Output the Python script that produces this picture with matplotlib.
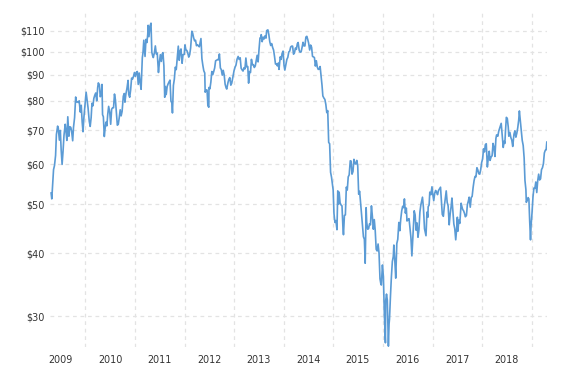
import numpy as np
import pandas as pd
import matplotlib
matplotlib.use("Agg")
import matplotlib.pyplot as plt
import matplotlib.dates as mdates
from matplotlib.ticker import FixedLocator, NullLocator, NullFormatter

# WTI crude oil price (weekly-ish)
dates = [
    "2009-04-23", "2009-04-28", "2009-05-04", "2009-05-11", "2009-05-18", "2009-05-26", "2009-06-01", "2009-06-10",
    "2009-06-15", "2009-06-23", "2009-06-30", "2009-07-06", "2009-07-13", "2009-07-20", "2009-07-27", "2009-08-05",
    "2009-08-11", "2009-08-17", "2009-08-24", "2009-09-01", "2009-09-08", "2009-09-15", "2009-09-21", "2009-09-29",
    "2009-10-05", "2009-10-13", "2009-10-21", "2009-10-27", "2009-11-03", "2009-11-09", "2009-11-16", "2009-11-24",
    "2009-12-01", "2009-12-08", "2009-12-14", "2009-12-21", "2009-12-29",
    "2010-01-06", "2010-01-12", "2010-01-20", "2010-01-29", "2010-02-05", "2010-02-12", "2010-02-18", "2010-02-25",
    "2010-03-04", "2010-03-11", "2010-03-18", "2010-03-25", "2010-04-01", "2010-04-06", "2010-04-14", "2010-04-20",
    "2010-04-28", "2010-05-03", "2010-05-07", "2010-05-13", "2010-05-20", "2010-05-25", "2010-06-01", "2010-06-08",
    "2010-06-14", "2010-06-21", "2010-06-29", "2010-07-06", "2010-07-13", "2010-07-20", "2010-07-27", "2010-08-03",
    "2010-08-10", "2010-08-17", "2010-08-24", "2010-08-31", "2010-09-07", "2010-09-14", "2010-09-21", "2010-09-28",
    "2010-10-07", "2010-10-14", "2010-10-19", "2010-10-26", "2010-11-03", "2010-11-11", "2010-11-16", "2010-11-23",
    "2010-11-30", "2010-12-07", "2010-12-14", "2010-12-21", "2010-12-28",
    "2011-01-04", "2011-01-11", "2011-01-18", "2011-01-25", "2011-02-01", "2011-02-08", "2011-02-15", "2011-02-22",
    "2011-02-24", "2011-03-01", "2011-03-07", "2011-03-16", "2011-03-23", "2011-03-30", "2011-04-05", "2011-04-08",
    "2011-04-14", "2011-04-21", "2011-04-29", "2011-05-05", "2011-05-11", "2011-05-16", "2011-05-24", "2011-05-31",
    "2011-06-07", "2011-06-14", "2011-06-23", "2011-06-30", "2011-07-07", "2011-07-14", "2011-07-21", "2011-07-26",
    "2011-08-02", "2011-08-08", "2011-08-12", "2011-08-19", "2011-08-26", "2011-09-02", "2011-09-09", "2011-09-16",
    "2011-09-23", "2011-09-30", "2011-10-04", "2011-10-11", "2011-10-18", "2011-10-25", "2011-11-01", "2011-11-08",
    "2011-11-16", "2011-11-23", "2011-11-30", "2011-12-06", "2011-12-14", "2011-12-21", "2011-12-30",
    "2012-01-04", "2012-01-11", "2012-01-18", "2012-01-25", "2012-02-01", "2012-02-08", "2012-02-15", "2012-02-24",
    "2012-03-01", "2012-03-08", "2012-03-15", "2012-03-22", "2012-03-29", "2012-04-05", "2012-04-12", "2012-04-19",
    "2012-04-26", "2012-05-01", "2012-05-08", "2012-05-15", "2012-05-22", "2012-05-29", "2012-06-01", "2012-06-08",
    "2012-06-15", "2012-06-21", "2012-06-28", "2012-06-29", "2012-07-06", "2012-07-13", "2012-07-20", "2012-07-27",
    "2012-08-03", "2012-08-10", "2012-08-17", "2012-08-24", "2012-08-31", "2012-09-07", "2012-09-14", "2012-09-21",
    "2012-09-28", "2012-10-05", "2012-10-12", "2012-10-19", "2012-10-26", "2012-11-02", "2012-11-07", "2012-11-16",
    "2012-11-23", "2012-11-30", "2012-12-07", "2012-12-14", "2012-12-21", "2012-12-31",
    "2013-01-07", "2013-01-14", "2013-01-22", "2013-01-30", "2013-02-06", "2013-02-14", "2013-02-21", "2013-02-28",
    "2013-03-07", "2013-03-14", "2013-03-21", "2013-03-28", "2013-04-04", "2013-04-11", "2013-04-17", "2013-04-24",
    "2013-05-01", "2013-05-08", "2013-05-15", "2013-05-22", "2013-05-29", "2013-06-05", "2013-06-12", "2013-06-19",
    "2013-06-26", "2013-07-03", "2013-07-10", "2013-07-17", "2013-07-19", "2013-07-26", "2013-08-02", "2013-08-09",
    "2013-08-16", "2013-08-23", "2013-08-28", "2013-09-06", "2013-09-13", "2013-09-20", "2013-09-27", "2013-10-04",
    "2013-10-11", "2013-10-18", "2013-10-25", "2013-11-01", "2013-11-08", "2013-11-15", "2013-11-22", "2013-11-27",
    "2013-12-06", "2013-12-13", "2013-12-20", "2013-12-27",
    "2014-01-03", "2014-01-09", "2014-01-17", "2014-01-24", "2014-01-31", "2014-02-07", "2014-02-14", "2014-02-21",
    "2014-02-28", "2014-03-07", "2014-03-14", "2014-03-21", "2014-03-28", "2014-04-04", "2014-04-11", "2014-04-17",
    "2014-04-25", "2014-05-02", "2014-05-09", "2014-05-16", "2014-05-23", "2014-05-30", "2014-06-06", "2014-06-13",
    "2014-06-20", "2014-06-27", "2014-07-03", "2014-07-11", "2014-07-18", "2014-07-25", "2014-08-01", "2014-08-08",
    "2014-08-15", "2014-08-22", "2014-08-29", "2014-09-05", "2014-09-12", "2014-09-19", "2014-09-26", "2014-10-03",
    "2014-10-10", "2014-10-16", "2014-10-24", "2014-10-31", "2014-11-07", "2014-11-14", "2014-11-21", "2014-11-28",
    "2014-12-05", "2014-12-12", "2014-12-19", "2014-12-26", "2014-12-31",
    "2015-01-06", "2015-01-13", "2015-01-20", "2015-01-28", "2015-02-03", "2015-02-10", "2015-02-13", "2015-02-20",
    "2015-02-27", "2015-03-06", "2015-03-13", "2015-03-17", "2015-03-24", "2015-03-31", "2015-04-07", "2015-04-14",
    "2015-04-21", "2015-04-28", "2015-05-06", "2015-05-12", "2015-05-19", "2015-05-26", "2015-06-02", "2015-06-09",
    "2015-06-16", "2015-06-23", "2015-06-30", "2015-07-07", "2015-07-14", "2015-07-21", "2015-07-28", "2015-08-04",
    "2015-08-11", "2015-08-18", "2015-08-24", "2015-08-31", "2015-09-04", "2015-09-11", "2015-09-18", "2015-09-25",
    "2015-10-02", "2015-10-09", "2015-10-16", "2015-10-23", "2015-10-30", "2015-11-06", "2015-11-13", "2015-11-20",
    "2015-11-27", "2015-12-04", "2015-12-11", "2015-12-18", "2015-12-21", "2015-12-29",
    "2016-01-05", "2016-01-12", "2016-01-20", "2016-01-22", "2016-01-28", "2016-02-03", "2016-02-11", "2016-02-16",
    "2016-02-19", "2016-02-26", "2016-03-04", "2016-03-11", "2016-03-18", "2016-03-22", "2016-03-30", "2016-04-05",
    "2016-04-13", "2016-04-20", "2016-04-28", "2016-05-05", "2016-05-12", "2016-05-19", "2016-05-26", "2016-06-02",
    "2016-06-08", "2016-06-15", "2016-06-22", "2016-06-27", "2016-07-05", "2016-07-12", "2016-07-19", "2016-07-26",
    "2016-08-02", "2016-08-09", "2016-08-16", "2016-08-19", "2016-08-26", "2016-09-02", "2016-09-09", "2016-09-16",
    "2016-09-23", "2016-09-30", "2016-10-07", "2016-10-19", "2016-10-26", "2016-11-03", "2016-11-14", "2016-11-21",
    "2016-11-28", "2016-11-30", "2016-12-07", "2016-12-12", "2016-12-20", "2016-12-28",
    "2017-01-03", "2017-01-10", "2017-01-17", "2017-01-24", "2017-01-31", "2017-02-07", "2017-02-14", "2017-02-22",
    "2017-03-01", "2017-03-08", "2017-03-14", "2017-03-22", "2017-03-29", "2017-04-05", "2017-04-12", "2017-04-19",
    "2017-04-26", "2017-05-04", "2017-05-11", "2017-05-18", "2017-05-24", "2017-05-31", "2017-06-07", "2017-06-14",
    "2017-06-21", "2017-06-28", "2017-07-03", "2017-07-07", "2017-07-14", "2017-07-21", "2017-07-31", "2017-08-04",
    "2017-08-11", "2017-08-18", "2017-08-25", "2017-08-31", "2017-09-08", "2017-09-15", "2017-09-22", "2017-09-28",
    "2017-10-06", "2017-10-13", "2017-10-20", "2017-10-27", "2017-11-03", "2017-11-10", "2017-11-17", "2017-11-24",
    "2017-12-01", "2017-12-08", "2017-12-15", "2017-12-22", "2017-12-29",
    "2018-01-05", "2018-01-12", "2018-01-19", "2018-01-25", "2018-02-01", "2018-02-09", "2018-02-16", "2018-02-23",
    "2018-03-01", "2018-03-09", "2018-03-16", "2018-03-23", "2018-03-29", "2018-04-06", "2018-04-13", "2018-04-18",
    "2018-04-27", "2018-05-04", "2018-05-11", "2018-05-17", "2018-05-22", "2018-05-30", "2018-06-06", "2018-06-13",
    "2018-06-18", "2018-06-22", "2018-06-29", "2018-07-06", "2018-07-13", "2018-07-17", "2018-07-25", "2018-08-01",
    "2018-08-08", "2018-08-15", "2018-08-24", "2018-08-31", "2018-09-07", "2018-09-14", "2018-09-21", "2018-09-28",
    "2018-10-03", "2018-10-10", "2018-10-17", "2018-10-24", "2018-10-31", "2018-11-07", "2018-11-13", "2018-11-20",
    "2018-11-23", "2018-11-30", "2018-12-06", "2018-12-12", "2018-12-18", "2018-12-24", "2018-12-28",
    "2019-01-04", "2019-01-11", "2019-01-18", "2019-01-25", "2019-02-01", "2019-02-08", "2019-02-15", "2019-02-22",
    "2019-03-01", "2019-03-08", "2019-03-15", "2019-03-22", "2019-03-29", "2019-04-05", "2019-04-12", "2019-04-18",
    "2019-04-23",
]

prices = [
    # 2009
    52.6, 51.2, 54.5, 58.5, 59.6, 62.4, 68.6, 71.3, 70.6, 66.9, 69.9, 64.1, 59.9, 63.6, 68.4, 71.9,
    69.5, 66.8, 74.4, 68.1, 71.1, 70.9, 69.7, 66.7, 70.9, 74.1, 81.4, 79.6, 79.6, 79.4, 80.0, 76.0,
    78.4, 72.6, 69.5, 74.4, 78.9,
    # 2010
    83.2, 80.8, 77.6, 72.9, 71.2, 74.1, 79.1, 78.2, 80.9, 82.1, 82.9, 80.0, 84.9, 86.8, 86.0, 81.5,
    82.4, 86.2, 75.1, 74.4, 68.0, 70.2, 72.6, 71.4, 75.1, 78.0, 75.9, 71.9, 77.0, 77.5, 77.5, 82.5,
    80.3, 75.8, 71.6, 71.9, 74.1, 76.8, 74.7, 76.2, 81.7, 82.7, 79.5, 82.5, 84.7, 87.8, 82.3, 81.3,
    84.1, 88.7, 88.3, 89.4, 91.0,
    # 2011
    89.4, 91.1, 91.4, 86.2, 90.8, 86.9, 84.3, 93.6, 97.3, 99.6, 105.4, 97.9, 105.8, 104.3, 108.3, 112.8,
    107.1, 112.3, 113.9, 99.8, 98.2, 97.4, 99.6, 102.7, 99.0, 99.4, 91.0, 95.4, 98.7, 95.7, 99.1, 99.6,
    93.8, 81.3, 85.4, 82.3, 85.4, 86.4, 87.2, 87.9, 79.9, 79.2, 75.7, 85.8, 88.3, 93.2, 92.2, 96.8,
    102.6, 96.2, 100.4, 101.3, 94.9, 98.7, 98.8,
    # 2012
    103.2, 100.9, 100.6, 99.4, 97.6, 98.7, 101.8, 109.8, 108.8, 106.6, 105.1, 105.4, 102.8, 103.3, 102.7, 102.3,
    104.5, 106.2, 96.9, 94.0, 91.7, 90.8, 83.2, 84.1, 84.0, 78.2, 77.7, 85.0, 84.5, 87.1, 91.4, 90.1,
    91.4, 92.9, 96.0, 96.2, 96.5, 96.4, 99.0, 92.9, 92.2, 89.9, 91.9, 90.1, 86.3, 84.9, 84.4, 86.9,
    88.3, 88.9, 85.9, 86.7, 88.7, 91.8,
    # 2013
    93.2, 94.1, 96.7, 97.9, 96.6, 97.3, 92.8, 92.1, 91.6, 93.0, 92.5, 97.2, 93.3, 93.5, 86.7, 91.4,
    91.0, 96.6, 94.3, 94.3, 93.1, 93.7, 95.9, 98.4, 95.5, 101.2, 106.5, 106.5, 108.1, 104.7, 106.9, 106.0,
    107.5, 106.4, 110.1, 110.5, 108.2, 104.7, 102.9, 103.8, 102.0, 100.8, 97.9, 94.6, 94.6, 93.8, 95.0, 92.3,
    97.7, 96.6, 99.3, 100.3,
    # 2014
    94.0, 92.0, 94.4, 96.6, 97.5, 99.9, 100.3, 102.2, 102.6, 102.6, 98.9, 99.5, 101.7, 101.1, 103.7, 104.3,
    100.6, 99.8, 100.0, 102.0, 104.4, 102.7, 102.7, 106.9, 107.3, 105.7, 104.1, 100.8, 103.1, 102.1, 97.9, 97.7,
    97.4, 93.7, 96.0, 93.3, 92.3, 92.4, 93.5, 89.7, 85.8, 81.8, 81.0, 80.5, 78.7, 75.8, 76.5, 66.2,
    65.8, 57.8, 56.5, 54.7, 53.3,
    # 2015
    47.9, 46.0, 46.4, 44.5, 53.1, 50.0, 52.8, 50.3, 49.8, 49.6, 45.0, 43.5, 47.5, 47.6, 54.0, 53.3,
    56.6, 57.1, 60.9, 60.8, 57.3, 58.0, 61.3, 60.1, 60.0, 61.0, 59.5, 52.3, 53.0, 50.4, 48.0, 45.7,
    43.1, 42.6, 38.2, 49.2, 46.1, 44.6, 44.7, 45.7, 45.5, 49.6, 47.3, 44.6, 46.6, 44.3, 40.7, 40.4,
    41.7, 40.0, 35.6, 34.7, 34.6, 37.9,
    # 2016
    36.0, 30.4, 26.6, 32.2, 33.2, 32.3, 26.2, 29.0, 29.6, 32.8, 35.9, 38.5, 39.4, 41.5, 38.3, 35.7,
    41.8, 42.6, 46.0, 44.3, 46.7, 48.5, 49.5, 49.2, 51.2, 48.0, 49.1, 46.3, 46.6, 46.8, 44.7, 42.9,
    39.5, 42.8, 46.6, 48.5, 47.6, 44.4, 45.9, 43.0, 44.5, 48.2, 49.8, 51.6, 49.2, 44.7, 43.3, 48.2,
    47.1, 49.4, 49.8, 52.8, 52.2, 54.1,
    # 2017
    52.3, 50.8, 52.5, 53.2, 52.8, 52.2, 53.2, 53.6, 54.0, 50.3, 47.7, 47.3, 49.5, 51.2, 53.1, 50.4,
    49.6, 45.5, 47.8, 49.4, 51.4, 48.3, 45.7, 44.7, 42.5, 44.7, 47.1, 44.2, 46.5, 45.8, 50.2, 49.6,
    48.8, 48.5, 47.9, 47.2, 47.5, 49.9, 50.7, 51.6, 49.3, 51.5, 51.8, 53.9, 55.6, 56.7, 56.6, 59.0,
    58.4, 57.4, 57.3, 58.5, 60.4,
    # 2018
    61.4, 64.3, 63.4, 65.5, 65.8, 59.2, 61.7, 63.6, 61.0, 62.0, 62.3, 65.9, 64.9, 62.1, 67.4, 68.5,
    68.1, 69.7, 70.7, 71.5, 72.2, 68.2, 64.7, 66.6, 65.9, 69.3, 74.2, 73.8, 71.0, 68.1, 69.3, 67.7,
    66.9, 65.0, 68.7, 69.8, 67.8, 69.0, 70.8, 73.3, 76.4, 73.2, 69.8, 66.8, 65.3, 61.7, 55.7, 53.4,
    50.4, 50.9, 51.5, 51.2, 46.2, 42.5, 45.3,
    # 2019
    48.0, 51.6, 53.8, 53.7, 55.3, 52.7, 55.6, 57.3, 55.8, 56.1, 58.5, 59.0, 60.1, 63.1, 63.9, 64.0,
    66.3,
]

years = list(range(2009, 2019))
y_ticks = [30, 40, 50, 60, 70, 80, 90, 100, 110]

df = pd.DataFrame({"date": pd.to_datetime(dates), "price": prices})

fig = plt.figure(figsize=(5.8, 3.66), dpi=100)
ax = fig.add_axes([0.086, 0.052, 0.857, 0.921])

ax.plot(df["date"], df["price"], color="#5b9bd5", linewidth=1.2)

ax.set_yscale("log")
ax.set_ylim(26.1, 121)
ax.set_xlim(pd.Timestamp("2009-04-14"), pd.Timestamp("2019-04-24"))

ax.yaxis.set_major_locator(FixedLocator(y_ticks))
ax.yaxis.set_minor_locator(NullLocator())
ax.yaxis.set_minor_formatter(NullFormatter())
ax.set_yticklabels([f"${v}" for v in y_ticks])

# grid lines at year starts, labels at mid-year
ax.xaxis.set_major_locator(FixedLocator([mdates.date2num(pd.Timestamp(f"{y}-01-01")) for y in range(2010, 2020)]))
ax.xaxis.set_major_formatter(NullFormatter())
ax.xaxis.set_minor_locator(FixedLocator([mdates.date2num(pd.Timestamp(f"{y}-07-02")) for y in years]))
ax.set_xticklabels([str(y) for y in years], minor=True)

ax.tick_params(axis="both", which="both", length=0, labelsize=6.9, labelcolor="#333333")
ax.tick_params(axis="x", which="minor", pad=6)
ax.tick_params(axis="y", pad=4)

ax.grid(True, which="major", color="#e3e3e3", linestyle=(0, (3, 3)), linewidth=0.9)
ax.set_axisbelow(True)
for s in ax.spines.values():
    s.set_visible(False)

fig.savefig("out.png", dpi=100)
